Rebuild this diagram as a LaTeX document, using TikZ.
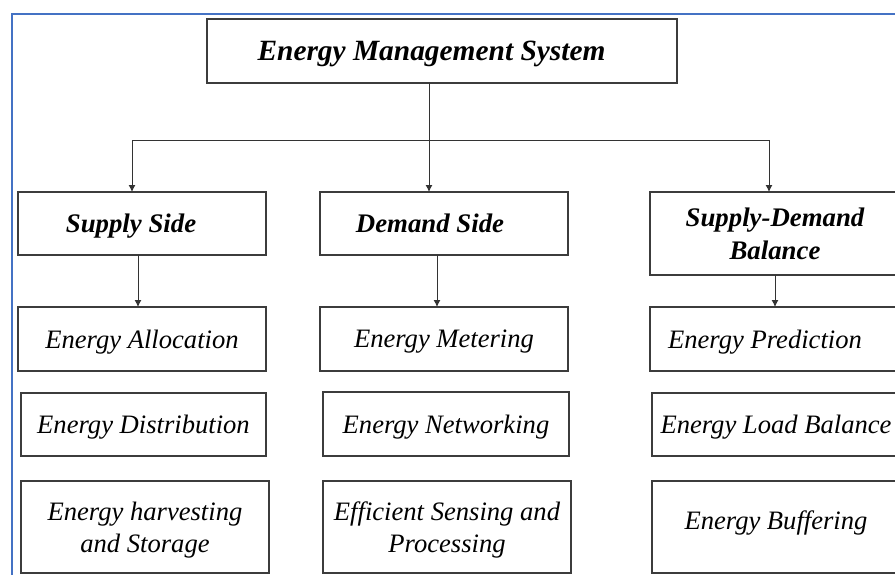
\documentclass[tikz,border=0pt]{standalone}
\usepackage{fontspec}
\setmainfont{Liberation Serif}
\usepackage{xcolor}
\usetikzlibrary{arrows.meta}

\definecolor{frameblue}{RGB}{68,114,196}
\definecolor{boxline}{RGB}{60,60,60}

\begin{document}
\begin{tikzpicture}[x=0.5pt, y=-0.5pt, >={Latex[length=3.5pt,width=3.5pt]},
    box/.style={draw=boxline, line width=0.65pt, inner sep=0pt, outer sep=0pt, align=center, text depth=0pt},
    head/.style={box, font=\fontsize{13.4}{16.5}\selectfont\bfseries\itshape},
    item/.style={box, font=\fontsize{13.3}{16}\selectfont\itshape},
    link/.style={->, line width=0.5pt, black!80}]
        \useasboundingbox (0,0) rectangle (895,574);
        \clip (0,0) rectangle (895,574);
        % page frame
        \draw[frameblue, line width=1pt] (12,590) -- (12,14) -- (910,14);
        % top level
        \node[box, minimum width=235pt, minimum height=32pt,
              font=\fontsize{14.7}{17}\selectfont\bfseries\itshape] (ems) at (442,51)
            {Energy Management System\hspace*{10.5pt}};
        % three branches
        \node[head, minimum width=124pt, minimum height=31.5pt] (supply) at (142,223.5)
            {Supply Side\hspace*{11pt}};
        \node[head, minimum width=124pt, minimum height=31.5pt] (demand) at (444,223.5)
            {Demand Side\hspace*{14pt}};
        \node[head, minimum width=125pt, minimum height=41.5pt] (balance) at (775,233.5)
            {Supply-Demand\\Balance};
        % supply side
        \node[item, minimum width=124pt, minimum height=32pt] (alloc) at (142,339)
            {Energy Allocation};
        \node[item, minimum width=122.5pt, minimum height=31.5pt] (distrib) at (143.5,424.5)
            {Energy Distribution};
        \node[item, minimum width=124pt, minimum height=46pt] (harvest) at (145,527)
            {Energy harvesting\\and Storage};
        % demand side
        \node[item, minimum width=124pt, minimum height=32pt] (meter) at (444,339)
            {Energy Metering};
        \node[item, minimum width=123pt, minimum height=32pt] (network) at (446,424)
            {Energy Networking};
        \node[item, minimum width=124pt, minimum height=46pt] (sensing) at (447,527)
            {Efficient Sensing and\\Processing};
        % supply-demand balance
        \node[item, minimum width=125pt, minimum height=32pt] (predict) at (775,339)
            {Energy Prediction\hspace*{10pt}};
        \node[item, minimum width=124pt, minimum height=31.5pt] (loadbal) at (776,424.5)
            {Energy Load Balance};
        \node[item, minimum width=124pt, minimum height=46pt] (buffer) at (776,527)
            {Energy Buffering\\[-9pt]\mbox{}};
        % tree connectors
        \coordinate (jl) at (132,140);
        \coordinate (jm) at (429,140);
        \coordinate (jr) at (769,140);
        \draw[link] (ems.south -| jm) -- (jm |- demand.north);
        \draw[line width=0.5pt, black!80] (jl) -- (jr);
        \draw[link] (jl) -- (jl |- supply.north);
        \draw[link] (jr) -- (jr |- balance.north);
        \draw[link] ([xshift=-2pt]supply.south) -- ([xshift=-2pt]supply.south |- alloc.north);
        \draw[link] ([xshift=-3.5pt]demand.south) -- ([xshift=-3.5pt]demand.south |- meter.north);
        \draw[link] (balance.south) -- (balance.south |- predict.north);
    \end{tikzpicture}
\end{document}
